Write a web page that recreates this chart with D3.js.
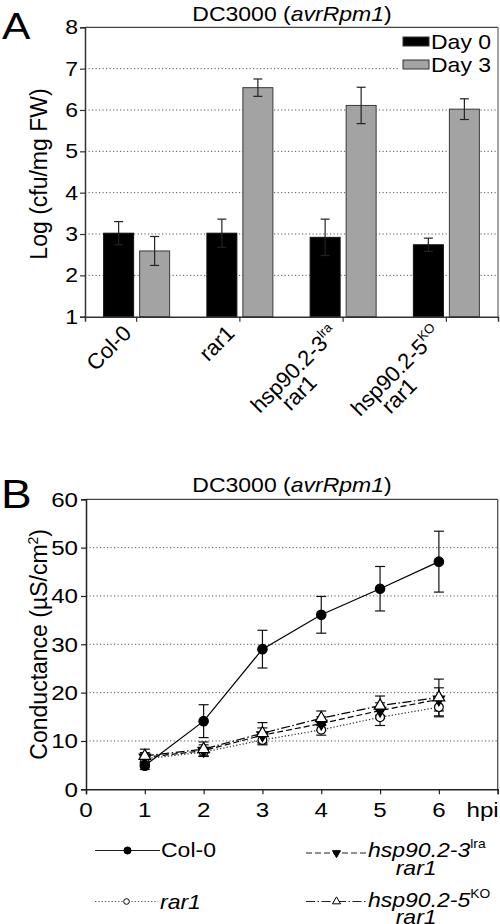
<!DOCTYPE html>
<html><head><meta charset="utf-8">
<script src="https://cdn.jsdelivr.net/npm/d3@7"></script>
<style>
body{margin:0;background:#fff}
svg{display:block}
text{font-family:"Liberation Sans",Arial,Helvetica,sans-serif;fill:#000}
</style>
</head><body>
<svg id="c" width="500" height="924"></svg>
<script>
// ---------- Panel A data ----------
const categoriesA = ["Col-0", "rar1", "hsp90.2-3", "hsp90.2-5"];
const categorySup = ["", "", "lra", "KO"];
const categoryLine2 = ["", "", "rar1", "rar1"];
const seriesA = ["Day 0", "Day 3"];
const day0 = [3.02, 3.02, 2.92, 2.74];
const day0Err = [0.28, 0.34, 0.44, 0.16];
const day3 = [2.59, 6.54, 6.11, 6.02];
const day3Err = [0.35, 0.21, 0.44, 0.25];
const yTicksA = [1, 2, 3, 4, 5, 6, 7, 8];

// ---------- Panel B data ----------
const hpi = [1, 2, 3, 4, 5, 6];
const xTicksB = [0, 1, 2, 3, 4, 5, 6];
const yTicksB = [0, 10, 20, 30, 40, 50, 60];
const seriesB = ["Col-0", "rar1", "hsp90.2-3", "hsp90.2-5"];
const seriesBSup = ["", "", "lra", "KO"];
const seriesBLine2 = ["", "", "rar1", "rar1"];
const col0 = [4.9, 14.1, 29.0, 36.1, 41.5, 47.1];
const col0Err = [0.8, 3.4, 3.9, 3.8, 4.6, 6.3];
const rar1 = [6.3, 7.7, 10.2, 12.3, 14.9, 17.0];
const rar1Err = [1.0, 0.8, 1.0, 1.1, 1.7, 2.0];
const hsp3 = [6.6, 8.0, 11.2, 13.6, 16.3, 18.6];
const hsp3Err = [1.0, 1.2, 1.5, 1.4, 1.6, 2.4];
const hsp5 = [6.9, 8.3, 11.6, 14.7, 17.3, 19.0];
const hsp5Err = [1.4, 1.5, 2.2, 1.5, 2.0, 3.8];

const SX = 1.15; // horizontal stretch of horizontal text
const svg = d3.select("#c");

function htext(g, x, y, anchor, size) {
  return g.append("text")
    .attr("transform", `translate(${x},${y}) scale(${SX},1)`)
    .attr("text-anchor", anchor)
    .attr("font-size", size);
}

// ================= PANEL A =================
const A = {l: 85, r: 498, t: 27.3, b: 316.7};
const xA = d3.scaleBand().domain(categoriesA).range([A.l, A.r]).paddingInner(0).paddingOuter(0);
const yA = d3.scaleLinear().domain([1, 8]).range([A.b, A.t]);
const gA = svg.append("g");

// grid
gA.append("g").selectAll("line").data(yTicksA.filter(d => d > 1 && d < 8)).join("line")
  .attr("x1", A.l).attr("x2", A.r).attr("y1", d => yA(d)).attr("y2", d => yA(d))
  .attr("stroke", "#555").attr("stroke-width", 1).attr("stroke-dasharray", "1.2,2.3");

// legend background (covers grid)
const legA = gA.append("g");
legA.append("rect").attr("x", 398).attr("y", A.t + 1).attr("width", A.r - 399).attr("height", 48).attr("fill", "#fff");

// bars
const barW = 30, gap = 3;
const barData = [];
categoriesA.forEach((c, i) => {
  barData.push({c, s: 0, v: day0[i], e: day0Err[i]});
  barData.push({c, s: 1, v: day3[i], e: day3Err[i]});
});
const bx = d => xA(d.c) + xA.bandwidth() / 2 + (d.s === 0 ? -gap - barW : gap);
gA.append("g").selectAll("rect").data(barData).join("rect")
  .attr("x", bx).attr("width", barW)
  .attr("y", d => yA(d.v)).attr("height", d => yA(1) - yA(d.v))
  .attr("fill", d => d.s === 0 ? "#000" : "#a3a3a3")
  .attr("stroke", d => d.s === 0 ? "#111" : "#3a3a3a").attr("stroke-width", 1);

// error bars
const eb = gA.append("g").attr("stroke", "#222").attr("stroke-width", 1.2);
barData.forEach(d => {
  const cx = bx(d) + barW / 2;
  eb.append("line").attr("x1", cx).attr("x2", cx).attr("y1", yA(d.v + d.e)).attr("y2", yA(d.v - d.e));
  [d.v + d.e, d.v - d.e].forEach(v => eb.append("line").attr("x1", cx - 4.5).attr("x2", cx + 4.5).attr("y1", yA(v)).attr("y2", yA(v)));
});

// frame
gA.append("line").attr("x1", A.l).attr("x2", A.r).attr("y1", A.t).attr("y2", A.t).attr("stroke", "#444").attr("stroke-width", 1.2);
gA.append("line").attr("x1", A.r).attr("x2", A.r).attr("y1", A.t).attr("y2", A.b).attr("stroke", "#666").attr("stroke-width", 1.2);

// y axis
const yAxA = gA.append("g").attr("transform", `translate(${A.l},0)`)
  .call(d3.axisLeft(yA).tickValues(yTicksA).tickSize(5).tickFormat(""));
yAxA.select(".domain").attr("stroke", "#333").attr("stroke-width", 1.5);
yAxA.selectAll(".tick line").attr("stroke", "#333").attr("stroke-width", 1.2);
yTicksA.forEach(v => htext(gA, 78, yA(v) + 7, "end", 20).text(v));

// x axis
const xAxA = gA.append("g").attr("transform", `translate(0,${A.b})`)
  .call(d3.axisBottom(xA).tickSize(5).tickFormat(""));
xAxA.select(".domain").attr("stroke", "#333").attr("stroke-width", 1.5);
xAxA.selectAll(".tick line").attr("stroke", "#333").attr("stroke-width", 1.2);

categoriesA.forEach((c, i) => {
  const tx = xA(c) + xA.bandwidth() / 2;
  const lg = gA.append("g").attr("transform", `translate(${tx - 4},${A.b + 18}) rotate(-45)`);
  const t1 = lg.append("text").attr("text-anchor", "end").attr("font-size", 22);
  const main = t1.append("tspan").text(c);
  if (categorySup[i]) {
    t1.append("tspan").attr("font-size", 13).attr("dy", -9).text(categorySup[i]);
  }
  if (categoryLine2[i]) {
    const wAll = t1.node().getComputedTextLength();
    const wMain = main.node().getComputedTextLength();
    lg.append("text").attr("text-anchor", "middle").attr("font-size", 22)
      .attr("x", -wAll + wMain / 2 - 6).attr("y", 20).text(categoryLine2[i]);
  }
});

// legend
const legColors = ["#000", "#a3a3a3"];
seriesA.forEach((s, i) => {
  const yy = 41.5 + i * 23;
  legA.append("rect").attr("x", 403).attr("y", yy - 4.5).attr("width", 26).attr("height", 9)
    .attr("fill", legColors[i]).attr("stroke", "#333").attr("stroke-width", 1);
  htext(legA, 431, yy + 7, "start", 20).text(s);
});

// title + axis title + panel letter
const tA = htext(gA, 292, 21, "middle", 20);
tA.append("tspan").text("DC3000 (");
tA.append("tspan").attr("font-style", "italic").text("avrRpm1");
tA.append("tspan").text(")");
gA.append("text").attr("transform", `translate(47,${(A.t + A.b) / 2 + 2}) rotate(-90)`)
  .attr("text-anchor", "middle").attr("font-size", 23).text("Log (cfu/mg FW)");
htext(gA, 2, 38.5, "start", 37).text("A");

// ================= PANEL B =================
const B = {l: 86, r: 497.7, t: 499.3, b: 789.3};
const xB = d3.scaleLinear().domain([0, 7]).range([B.l, B.r]);
const yB = d3.scaleLinear().domain([0, 60]).range([B.b, B.t]);
const gB = svg.append("g");

gB.append("g").selectAll("line").data(yTicksB.filter(d => d > 0 && d < 60)).join("line")
  .attr("x1", B.l).attr("x2", B.r).attr("y1", d => yB(d)).attr("y2", d => yB(d))
  .attr("stroke", "#555").attr("stroke-width", 1).attr("stroke-dasharray", "1.2,2.3");

gB.append("line").attr("x1", B.l).attr("x2", B.r).attr("y1", B.t).attr("y2", B.t).attr("stroke", "#444").attr("stroke-width", 1.2);
gB.append("line").attr("x1", B.r).attr("x2", B.r).attr("y1", B.t).attr("y2", B.b).attr("stroke", "#444").attr("stroke-width", 1.2);

const yAxB = gB.append("g").attr("transform", `translate(${B.l},0)`)
  .call(d3.axisLeft(yB).tickValues(yTicksB).tickSize(5).tickFormat(""));
yAxB.select(".domain").attr("stroke", "#222").attr("stroke-width", 1.5);
yAxB.selectAll(".tick line").attr("stroke", "#222").attr("stroke-width", 1.2);
yTicksB.forEach(v => htext(gB, 78, yB(v) + 7.5, "end", 21).text(v));

const xAxB = gB.append("g").attr("transform", `translate(0,${B.b})`)
  .call(d3.axisBottom(xB).tickValues([...xTicksB, 7]).tickSize(5).tickFormat(""));
xAxB.select(".domain").attr("stroke", "#222").attr("stroke-width", 1.5);
xAxB.selectAll(".tick line").attr("stroke", "#222").attr("stroke-width", 1.2);
xTicksB.forEach(v => htext(gB, xB(v), B.b + 28, "middle", 21).text(v));
htext(gB, B.r + 1, B.b + 28, "end", 21).text("hpi");

const seriesData = [
  {name: seriesB[0], v: col0, e: col0Err, dash: null, sym: d3.symbolCircle, fill: "#000", rot: 0, size: 70},
  {name: seriesB[1], v: rar1, e: rar1Err, dash: "1.3,2", sym: d3.symbolCircle, fill: "#fff", rot: 0, size: 60},
  {name: seriesB[2], v: hsp3, e: hsp3Err, dash: "6,3", sym: d3.symbolTriangle, fill: "#000", rot: 180, size: 55},
  {name: seriesB[3], v: hsp5, e: hsp5Err, dash: "9,2.5,1.5,2.5", sym: d3.symbolTriangle, fill: "#fff", rot: 0, size: 60}
];
const line = d3.line().x((d, i) => xB(hpi[i])).y(d => yB(d));

// lines
[1, 2, 3, 0].forEach(k => {
  const s = seriesData[k];
  gB.append("path").attr("d", line(s.v)).attr("fill", "none").attr("stroke", k === 1 ? "#333" : "#000")
    .attr("stroke-width", 1.2).attr("stroke-dasharray", s.dash);
});
// error bars
const ebB = gB.append("g").attr("stroke", "#111").attr("stroke-width", 1.2);
seriesData.forEach(s => {
  s.v.forEach((v, i) => {
    const cx = xB(hpi[i]);
    ebB.append("line").attr("x1", cx).attr("x2", cx).attr("y1", yB(v + s.e[i])).attr("y2", yB(v - s.e[i]));
    [v + s.e[i], v - s.e[i]].forEach(w => ebB.append("line").attr("x1", cx - 5).attr("x2", cx + 5).attr("y1", yB(w)).attr("y2", yB(w)));
  });
});
// markers
[1, 2, 3, 0].forEach(k => {
  const s = seriesData[k];
  gB.append("g").selectAll("path").data(s.v).join("path")
    .attr("transform", (d, i) => `translate(${xB(hpi[i])},${yB(d)}) rotate(${s.rot})`)
    .attr("d", d3.symbol(s.sym, s.size)())
    .attr("fill", s.fill).attr("stroke", "#000").attr("stroke-width", 1.2);
});

// title, axis title, letter
const tB = htext(gB, 292, 491.5, "middle", 20);
tB.append("tspan").text("DC3000 (");
tB.append("tspan").attr("font-style", "italic").text("avrRpm1");
tB.append("tspan").text(")");
const ylB = gB.append("text").attr("transform", `translate(47,${(B.t + B.b) / 2}) rotate(-90)`)
  .attr("text-anchor", "middle").attr("font-size", 23);
ylB.append("tspan").text("Conductance (µS/cm");
ylB.append("tspan").attr("font-size", 14).attr("dy", -9).text("2");
ylB.append("tspan").attr("dy", 9).text(")");
htext(gB, 1, 508, "start", 40).text("B");

// legend B
const legPos = [
  {x1: 95, x2: 160, y: 850.5, tx: 161, ty: 857, l2: 18},
  {x1: 95, x2: 158, y: 901.5, tx: 160, ty: 909, l2: 18},
  {x1: 306, x2: 367, y: 853, tx: 368, ty: 857, l2: 18},
  {x1: 306, x2: 367, y: 901.5, tx: 368, ty: 907, l2: 16.5}
];
const legSizes = [40, 25, 28, 28];
seriesData.forEach((s, k) => {
  const p = legPos[k];
  const lg = gB.append("g");
  lg.append("line").attr("x1", p.x1).attr("x2", p.x2).attr("y1", p.y).attr("y2", p.y)
    .attr("stroke", k === 1 ? "#555" : "#222").attr("stroke-width", 1.2).attr("stroke-dasharray", s.dash);
  lg.append("path").attr("transform", `translate(${(p.x1 + p.x2) / 2},${p.y}) rotate(${s.rot})`)
    .attr("d", d3.symbol(s.sym, legSizes[k])()).attr("fill", s.fill).attr("stroke", "#000").attr("stroke-width", 1);
  const t = htext(lg, p.tx, p.ty, "start", 20);
  const main = t.append("tspan").attr("font-style", k === 0 ? null : "italic").text(s.name);
  if (seriesBSup[k]) t.append("tspan").attr("font-size", 12).attr("dy", -9).text(seriesBSup[k]);
  if (seriesBLine2[k]) {
    const wMain = main.node().getComputedTextLength();
    htext(lg, p.tx + wMain * SX / 2 - 3, p.ty + p.l2, "middle", 20).attr("font-style", "italic").text(seriesBLine2[k]);
  }
});
</script>
</body></html>
